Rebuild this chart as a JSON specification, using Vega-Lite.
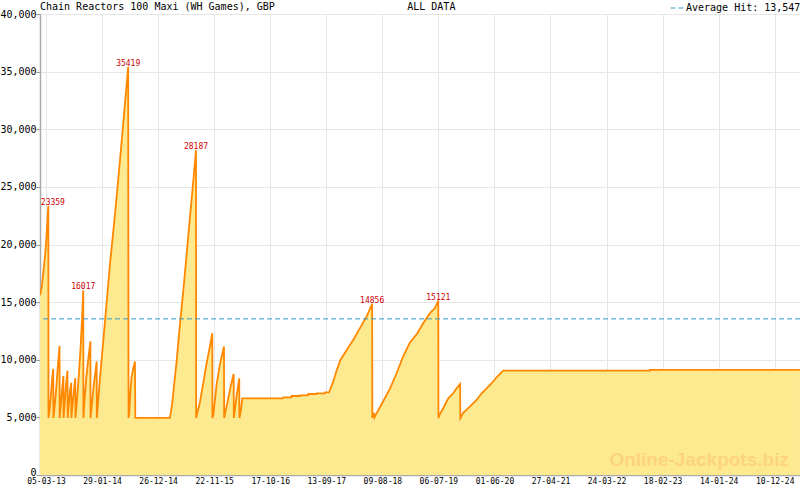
{
  "$schema": "https://vega.github.io/schema/vega-lite/v6.json",
  "width": 760,
  "height": 461,
  "autosize": "none",
  "padding": {"left": 40, "top": 14, "right": 0, "bottom": 15},
  "background": "white",
  "title": {
    "text": "Chain Reactors 100 Maxi (WH Games), GBP\u00a0\u00a0\u00a0\u00a0\u00a0\u00a0\u00a0\u00a0\u00a0\u00a0\u00a0\u00a0\u00a0\u00a0\u00a0\u00a0\u00a0\u00a0\u00a0\u00a0\u00a0\u00a0ALL DATA",
    "anchor": "start",
    "frame": "group",
    "font": "DejaVu Sans Mono",
    "fontSize": 10,
    "fontWeight": "normal",
    "color": "#000000",
    "baseline": "alphabetic",
    "offset": 3,
    "dy": 22
  },
  "config": {
    "view": {"stroke": "#aaaaaa", "strokeWidth": 1},
    "axis": {
      "labelFont": "DejaVu Sans Mono",
      "labelFontSize": 10,
      "labelColor": "#000000",
      "domainColor": "#aaaaaa",
      "domainWidth": 1.5,
      "tickColor": "#999999",
      "gridColor": "#e6e6e6",
      "title": null
    }
  },
  "datasets": {
    "series": [
      {"date": "2013-01-29", "value": 15600},
      {"date": "2013-02-09", "value": 16360},
      {"date": "2013-02-15", "value": 17220},
      {"date": "2013-02-21", "value": 18090},
      {"date": "2013-03-01", "value": 19250},
      {"date": "2013-03-07", "value": 20410},
      {"date": "2013-03-13", "value": 22000},
      {"date": "2013-03-19", "value": 23359},
      {"date": "2013-03-20", "value": 4950},
      {"date": "2013-03-26", "value": 5600},
      {"date": "2013-04-03", "value": 6900},
      {"date": "2013-04-10", "value": 8300},
      {"date": "2013-04-17", "value": 9200},
      {"date": "2013-04-18", "value": 4950},
      {"date": "2013-04-25", "value": 5900},
      {"date": "2013-05-05", "value": 7600},
      {"date": "2013-05-15", "value": 9600},
      {"date": "2013-05-24", "value": 11200},
      {"date": "2013-05-25", "value": 4950},
      {"date": "2013-06-02", "value": 6300},
      {"date": "2013-06-10", "value": 7700},
      {"date": "2013-06-16", "value": 8600},
      {"date": "2013-06-17", "value": 4950},
      {"date": "2013-06-24", "value": 6300},
      {"date": "2013-07-02", "value": 7900},
      {"date": "2013-07-10", "value": 9050},
      {"date": "2013-07-11", "value": 4950},
      {"date": "2013-07-18", "value": 6200},
      {"date": "2013-07-25", "value": 7300},
      {"date": "2013-08-01", "value": 8000},
      {"date": "2013-08-02", "value": 4950},
      {"date": "2013-08-10", "value": 6300},
      {"date": "2013-08-18", "value": 7500},
      {"date": "2013-08-25", "value": 8400},
      {"date": "2013-08-26", "value": 4950},
      {"date": "2013-09-05", "value": 6600},
      {"date": "2013-09-15", "value": 8700},
      {"date": "2013-09-25", "value": 11000},
      {"date": "2013-10-04", "value": 13600},
      {"date": "2013-10-11", "value": 16017},
      {"date": "2013-10-12", "value": 4950},
      {"date": "2013-10-20", "value": 6800},
      {"date": "2013-10-30", "value": 8600},
      {"date": "2013-11-10", "value": 10100},
      {"date": "2013-11-22", "value": 11600},
      {"date": "2013-11-23", "value": 4950},
      {"date": "2013-12-02", "value": 6300},
      {"date": "2013-12-12", "value": 7800},
      {"date": "2013-12-22", "value": 9000},
      {"date": "2013-12-29", "value": 9850},
      {"date": "2013-12-30", "value": 4950},
      {"date": "2014-01-17", "value": 8300},
      {"date": "2014-02-16", "value": 13300},
      {"date": "2014-03-17", "value": 18200},
      {"date": "2014-04-16", "value": 22600},
      {"date": "2014-05-15", "value": 27200},
      {"date": "2014-06-14", "value": 32200},
      {"date": "2014-07-03", "value": 35419},
      {"date": "2014-07-05", "value": 4950},
      {"date": "2014-07-09", "value": 5300},
      {"date": "2014-07-16", "value": 7200},
      {"date": "2014-07-23", "value": 8500},
      {"date": "2014-08-01", "value": 9200},
      {"date": "2014-08-12", "value": 9850},
      {"date": "2014-08-14", "value": 4950},
      {"date": "2015-03-06", "value": 4950},
      {"date": "2015-03-18", "value": 6000},
      {"date": "2015-03-30", "value": 7700},
      {"date": "2015-04-15", "value": 9900},
      {"date": "2015-05-04", "value": 13000},
      {"date": "2015-05-24", "value": 16000},
      {"date": "2015-06-13", "value": 19200},
      {"date": "2015-07-02", "value": 22300},
      {"date": "2015-07-22", "value": 25500},
      {"date": "2015-08-07", "value": 28187},
      {"date": "2015-08-08", "value": 4950},
      {"date": "2015-08-14", "value": 5350},
      {"date": "2015-08-30", "value": 6300},
      {"date": "2015-09-19", "value": 8000},
      {"date": "2015-10-09", "value": 9700},
      {"date": "2015-10-28", "value": 11150},
      {"date": "2015-11-11", "value": 12300},
      {"date": "2015-11-12", "value": 4950},
      {"date": "2015-11-17", "value": 5200},
      {"date": "2015-12-07", "value": 7900},
      {"date": "2015-12-26", "value": 9600},
      {"date": "2016-01-19", "value": 11150},
      {"date": "2016-01-20", "value": 4950},
      {"date": "2016-02-11", "value": 6500},
      {"date": "2016-02-29", "value": 7800},
      {"date": "2016-03-16", "value": 8760},
      {"date": "2016-03-17", "value": 4950},
      {"date": "2016-04-02", "value": 6800},
      {"date": "2016-04-18", "value": 8390},
      {"date": "2016-04-19", "value": 4950},
      {"date": "2016-04-28", "value": 5600},
      {"date": "2016-05-06", "value": 6650},
      {"date": "2016-12-31", "value": 6650},
      {"date": "2017-01-03", "value": 6740},
      {"date": "2017-02-20", "value": 6740},
      {"date": "2017-02-21", "value": 6855},
      {"date": "2017-04-10", "value": 6855},
      {"date": "2017-04-11", "value": 6915},
      {"date": "2017-05-29", "value": 6915},
      {"date": "2017-05-30", "value": 7030},
      {"date": "2017-07-18", "value": 7030},
      {"date": "2017-07-19", "value": 7090},
      {"date": "2017-09-05", "value": 7090},
      {"date": "2017-09-06", "value": 7175},
      {"date": "2017-09-30", "value": 7175},
      {"date": "2017-10-01", "value": 7230},
      {"date": "2017-10-05", "value": 7375},
      {"date": "2017-10-24", "value": 8100},
      {"date": "2017-11-12", "value": 9000},
      {"date": "2017-12-06", "value": 9980},
      {"date": "2018-01-12", "value": 10850},
      {"date": "2018-02-19", "value": 11720},
      {"date": "2018-03-31", "value": 12740},
      {"date": "2018-05-09", "value": 13750},
      {"date": "2018-06-11", "value": 14856},
      {"date": "2018-06-12", "value": 4950},
      {"date": "2018-06-15", "value": 5350},
      {"date": "2018-06-18", "value": 4980},
      {"date": "2018-06-22", "value": 5400},
      {"date": "2018-06-25", "value": 5000},
      {"date": "2018-07-07", "value": 5350},
      {"date": "2018-08-15", "value": 6400},
      {"date": "2018-09-24", "value": 7500},
      {"date": "2018-11-02", "value": 8830},
      {"date": "2018-12-11", "value": 10300},
      {"date": "2019-01-20", "value": 11500},
      {"date": "2019-02-28", "value": 12200},
      {"date": "2019-04-08", "value": 13170},
      {"date": "2019-05-18", "value": 14040},
      {"date": "2019-06-16", "value": 14470},
      {"date": "2019-07-06", "value": 15121},
      {"date": "2019-07-07", "value": 4950},
      {"date": "2019-07-16", "value": 5300},
      {"date": "2019-08-04", "value": 5790},
      {"date": "2019-09-03", "value": 6655},
      {"date": "2019-10-02", "value": 7090},
      {"date": "2019-10-22", "value": 7525},
      {"date": "2019-11-12", "value": 7900},
      {"date": "2019-11-13", "value": 4950},
      {"date": "2019-11-30", "value": 5400},
      {"date": "2020-01-08", "value": 5925},
      {"date": "2020-02-17", "value": 6510},
      {"date": "2020-03-18", "value": 7090},
      {"date": "2020-04-16", "value": 7525},
      {"date": "2020-05-16", "value": 7960},
      {"date": "2020-06-14", "value": 8480},
      {"date": "2020-07-23", "value": 9050},
      {"date": "2022-12-04", "value": 9050},
      {"date": "2022-12-05", "value": 9130},
      {"date": "2025-05-08", "value": 9130}
    ],
    "average": [
      {"label": "Average Hit: 13,547", "avg": 13547}
    ],
    "site": [
      {"name": "Online-Jackpots.biz"}
    ]
  },
  "layer": [
    {
      "data": {"name": "series"},
      "encoding": {
        "x": {
          "field": "date",
          "type": "temporal",
          "scale": {"type": "utc", "domain": [1359407304000, 1746694440000]},
          "axis": {
            "values": [1362465000000, 1366545738462, 1370626476924, 1374707215386, 1378787953848, 1382868692310, 1386949430772, 1391030169234, 1395110907696, 1399191646158, 1403272384620, 1407353123082, 1411433861544, 1415514600006, 1419595338468, 1423676076930, 1427756815392, 1431837553854, 1435918292316, 1439999030778, 1444079769240, 1448160507702, 1452241246164, 1456321984626, 1460402723088, 1464483461550, 1468564200012, 1472644938474, 1476725676936, 1480806415398, 1484887153860, 1488967892322, 1493048630784, 1497129369246, 1501210107708, 1505290846170, 1509371584632, 1513452323094, 1517533061556, 1521613800018, 1525694538480, 1529775276942, 1533856015404, 1537936753866, 1542017492328, 1546098230790, 1550178969252, 1554259707714, 1558340446176, 1562421184638, 1566501923100, 1570582661562, 1574663400024, 1578744138486, 1582824876948, 1586905615410, 1590986353872, 1595067092334, 1599147830796, 1603228569258, 1607309307720, 1611390046182, 1615470784644, 1619551523106, 1623632261568, 1627713000030, 1631793738492, 1635874476954, 1639955215416, 1644035953878, 1648116692340, 1652197430802, 1656278169264, 1660358907726, 1664439646188, 1668520384650, 1672601123112, 1676681861574, 1680762600036, 1684843338498, 1688924076960, 1693004815422, 1697085553884, 1701166292346, 1705247030808, 1709327769270, 1713408507732, 1717489246194, 1721569984656, 1725650723118, 1729731461580, 1733812200042, 1737892938504, 1741973676966, 1746054415428],
            "labelExpr": "round((datum.value - 1362465000000) / 4080738462) % 7 === 0 ? utcFormat(datum.value, '%d-%m-%y') : ''",
            "labelOverlap": false,
            "labelFlush": false,
            "labelFontSize": 8,
            "labelPadding": 2,
            "tickSize": 0,
            "grid": true,
            "gridOpacity": {"condition": {"test": "round((datum.value - 1362465000000) / 4080738462) % 7 === 0", "value": 1}, "value": 0},
            "encode": {
              "ticks": {
                "update": {
                  "y2": {"signal": "round((datum.value - 1362465000000) / 4080738462) % 7 === 0 ? -5 : -3"}
                }
              }
            }
          }
        },
        "y": {
          "field": "value",
          "type": "quantitative",
          "scale": {"domain": [0, 40000]},
          "axis": {
            "values": [0, 5000, 10000, 15000, 20000, 25000, 30000, 35000, 40000],
            "format": ",d",
            "tickSize": 4,
            "labelPadding": 0,
            "labelBaseline": {"condition": {"test": "datum.value === 0", "value": "alphabetic"}, "value": "middle"},
            "grid": true
          }
        }
      },
      "layer": [
        {
          "mark": {
            "type": "area",
            "interpolate": "linear",
            "color": "#fde98f",
            "opacity": 1,
            "clip": true,
            "line": {"color": "#ff8800", "strokeWidth": 1.8}
          }
        },
        {
          "transform": [{"filter": {"field": "value", "oneOf": [16017, 35419, 28187, 14856, 15121]}}],
          "mark": {
            "type": "text",
            "font": "DejaVu Sans Mono",
            "fontSize": 8,
            "color": "#cc0000",
            "align": "center",
            "baseline": "alphabetic",
            "dy": -1
          },
          "encoding": {
            "text": {"field": "value", "type": "quantitative", "format": "d"}
          }
        },
        {
          "transform": [{"filter": {"field": "value", "equal": 23359}}],
          "mark": {
            "type": "text",
            "font": "DejaVu Sans Mono",
            "fontSize": 8,
            "color": "#cc0000",
            "align": "left",
            "baseline": "alphabetic",
            "dx": -7.5,
            "dy": -1
          },
          "encoding": {
            "text": {"field": "value", "type": "quantitative", "format": "d"}
          }
        }
      ]
    },
    {
      "data": {"name": "site"},
      "mark": {
        "type": "text",
        "font": "Liberation Sans",
        "fontWeight": "bold",
        "fontSize": 19,
        "color": "#fdd47e",
        "align": "right",
        "baseline": "alphabetic"
      },
      "encoding": {
        "x": {
          "datum": {"year": 2025, "month": 3, "date": 4, "utc": true},
          "type": "temporal",
          "scale": {"type": "utc", "domain": [1359407304000, 1746694440000]},
          "axis": {
            "values": [1362465000000, 1366545738462, 1370626476924, 1374707215386, 1378787953848, 1382868692310, 1386949430772, 1391030169234, 1395110907696, 1399191646158, 1403272384620, 1407353123082, 1411433861544, 1415514600006, 1419595338468, 1423676076930, 1427756815392, 1431837553854, 1435918292316, 1439999030778, 1444079769240, 1448160507702, 1452241246164, 1456321984626, 1460402723088, 1464483461550, 1468564200012, 1472644938474, 1476725676936, 1480806415398, 1484887153860, 1488967892322, 1493048630784, 1497129369246, 1501210107708, 1505290846170, 1509371584632, 1513452323094, 1517533061556, 1521613800018, 1525694538480, 1529775276942, 1533856015404, 1537936753866, 1542017492328, 1546098230790, 1550178969252, 1554259707714, 1558340446176, 1562421184638, 1566501923100, 1570582661562, 1574663400024, 1578744138486, 1582824876948, 1586905615410, 1590986353872, 1595067092334, 1599147830796, 1603228569258, 1607309307720, 1611390046182, 1615470784644, 1619551523106, 1623632261568, 1627713000030, 1631793738492, 1635874476954, 1639955215416, 1644035953878, 1648116692340, 1652197430802, 1656278169264, 1660358907726, 1664439646188, 1668520384650, 1672601123112, 1676681861574, 1680762600036, 1684843338498, 1688924076960, 1693004815422, 1697085553884, 1701166292346, 1705247030808, 1709327769270, 1713408507732, 1717489246194, 1721569984656, 1725650723118, 1729731461580, 1733812200042, 1737892938504, 1741973676966, 1746054415428],
            "labelExpr": "round((datum.value - 1362465000000) / 4080738462) % 7 === 0 ? utcFormat(datum.value, '%d-%m-%y') : ''",
            "labelOverlap": false,
            "labelFlush": false,
            "labelFontSize": 8,
            "labelPadding": 2,
            "tickSize": 0,
            "grid": true,
            "gridOpacity": {"condition": {"test": "round((datum.value - 1362465000000) / 4080738462) % 7 === 0", "value": 1}, "value": 0},
            "encode": {
              "ticks": {
                "update": {
                  "y2": {"signal": "round((datum.value - 1362465000000) / 4080738462) % 7 === 0 ? -5 : -3"}
                }
              }
            }
          }
        },
        "y": {
          "datum": 770,
          "type": "quantitative",
          "scale": {"domain": [0, 40000]},
          "axis": {
            "values": [0, 5000, 10000, 15000, 20000, 25000, 30000, 35000, 40000],
            "format": ",d",
            "tickSize": 4,
            "labelPadding": 0,
            "labelBaseline": {"condition": {"test": "datum.value === 0", "value": "alphabetic"}, "value": "middle"},
            "grid": true
          }
        },
        "text": {"field": "name", "type": "nominal"}
      }
    },
    {
      "data": {"name": "average"},
      "mark": {"type": "rule", "strokeDash": [5, 3], "strokeWidth": 1},
      "encoding": {
        "y": {
          "field": "avg",
          "type": "quantitative",
          "scale": {"domain": [0, 40000]},
          "axis": {
            "values": [0, 5000, 10000, 15000, 20000, 25000, 30000, 35000, 40000],
            "format": ",d",
            "tickSize": 4,
            "labelPadding": 0,
            "labelBaseline": {"condition": {"test": "datum.value === 0", "value": "alphabetic"}, "value": "middle"},
            "grid": true
          }
        },
        "color": {
          "field": "label",
          "type": "nominal",
          "scale": {"range": ["#3399cc"]},
          "legend": {
            "title": null,
            "orient": "none",
            "legendX": 630,
            "legendY": -13,
            "padding": 0,
            "symbolType": "stroke",
            "symbolDash": [5, 3],
            "symbolSize": 169,
            "symbolStrokeWidth": 1,
            "labelFont": "DejaVu Sans Mono",
            "labelFontSize": 10,
            "labelColor": "#000000",
            "labelOffset": 2
          }
        }
      }
    }
  ]
}
